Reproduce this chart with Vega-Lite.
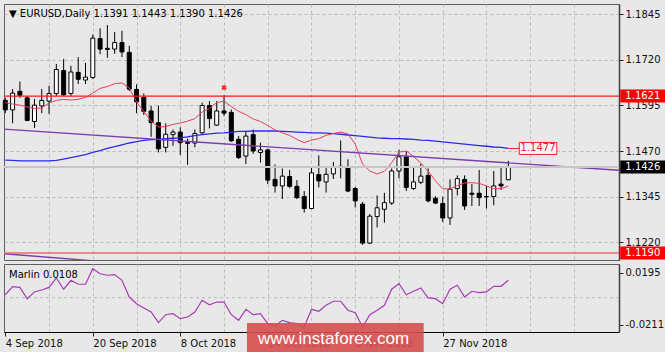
{
  "$schema": "https://vega.github.io/schema/vega-lite/v6.json",
  "background": "#e8e8e8",
  "padding": {"left": 2, "top": 3, "right": 0, "bottom": 0},
  "spacing": 2,
  "config": {
    "view": {"stroke": "#5e5e5e", "strokeWidth": 1, "fill": "#e8e8e8"},
    "font": "DejaVu Sans",
    "scale": {"continuousPadding": 0},
    "axis": {"labelFont": "DejaVu Sans", "labelFontSize": 10, "labelColor": "#111111", "tickColor": "#222222", "domainColor": "#404040", "gridColor": "#bababa", "gridDash": [3, 3], "gridWidth": 1, "zindex": 0}
  },
  "datasets": {
    "candles": [
      {"i":0,"o":1.1609,"h":1.1616,"l":1.1574,"c":1.1583,"fast":1.1603,"slow":1.1445,"marlin":0.0023},
      {"i":1,"o":1.1583,"h":1.1640,"l":1.1546,"c":1.1629,"fast":1.1599,"slow":1.1444,"marlin":0.0087},
      {"i":2,"o":1.1634,"h":1.1661,"l":1.1616,"c":1.1623,"fast":1.1596,"slow":1.1443,"marlin":0.0080},
      {"i":3,"o":1.1616,"h":1.1621,"l":1.1552,"c":1.1554,"fast":1.1591,"slow":1.1443,"marlin":-0.0008},
      {"i":4,"o":1.1551,"h":1.1613,"l":1.1533,"c":1.1596,"fast":1.1587,"slow":1.1443,"marlin":0.0045},
      {"i":5,"o":1.1594,"h":1.1640,"l":1.1574,"c":1.1609,"fast":1.1588,"slow":1.1443,"marlin":0.0060},
      {"i":6,"o":1.1607,"h":1.1649,"l":1.1572,"c":1.1628,"fast":1.1602,"slow":1.1443,"marlin":0.0080},
      {"i":7,"o":1.1628,"h":1.1709,"l":1.1621,"c":1.1694,"fast":1.1609,"slow":1.1444,"marlin":0.0154},
      {"i":8,"o":1.1691,"h":1.1723,"l":1.1621,"c":1.1624,"fast":1.1612,"slow":1.1448,"marlin":0.0066},
      {"i":9,"o":1.1628,"h":1.1704,"l":1.1621,"c":1.1687,"fast":1.1610,"slow":1.1452,"marlin":0.0136},
      {"i":10,"o":1.1686,"h":1.1728,"l":1.1654,"c":1.1667,"fast":1.1612,"slow":1.1456,"marlin":0.0105},
      {"i":11,"o":1.1665,"h":1.1712,"l":1.1654,"c":1.1673,"fast":1.1617,"slow":1.1460,"marlin":0.0105},
      {"i":12,"o":1.1672,"h":1.1790,"l":1.1668,"c":1.1780,"fast":1.1629,"slow":1.1466,"marlin":0.0226},
      {"i":13,"o":1.1779,"h":1.1807,"l":1.1736,"c":1.1750,"fast":1.1642,"slow":1.1471,"marlin":0.0187},
      {"i":14,"o":1.1752,"h":1.1816,"l":1.1726,"c":1.1749,"fast":1.1647,"slow":1.1477,"marlin":0.0175},
      {"i":15,"o":1.1750,"h":1.1797,"l":1.1737,"c":1.1768,"fast":1.1655,"slow":1.1482,"marlin":0.0180},
      {"i":16,"o":1.1768,"h":1.1800,"l":1.1728,"c":1.1742,"fast":1.1657,"slow":1.1487,"marlin":0.0136},
      {"i":17,"o":1.1741,"h":1.1759,"l":1.1635,"c":1.1640,"fast":1.1643,"slow":1.1492,"marlin":0.0005},
      {"i":18,"o":1.1639,"h":1.1653,"l":1.1574,"c":1.1605,"fast":1.1605,"slow":1.1496,"marlin":-0.0047},
      {"i":19,"o":1.1618,"h":1.1628,"l":1.1569,"c":1.1579,"fast":1.1579,"slow":1.1499,"marlin":-0.0080},
      {"i":20,"o":1.1580,"h":1.1594,"l":1.1509,"c":1.1548,"fast":1.1552,"slow":1.1501,"marlin":-0.0112},
      {"i":21,"o":1.1548,"h":1.1595,"l":1.1466,"c":1.1476,"fast":1.1536,"slow":1.1502,"marlin":-0.0195},
      {"i":22,"o":1.1480,"h":1.1546,"l":1.1466,"c":1.1516,"fast":1.1537,"slow":1.1504,"marlin":-0.0133},
      {"i":23,"o":1.1515,"h":1.1529,"l":1.1484,"c":1.1522,"fast":1.1543,"slow":1.1505,"marlin":-0.0125},
      {"i":24,"o":1.1522,"h":1.1535,"l":1.1459,"c":1.1493,"fast":1.1547,"slow":1.1506,"marlin":-0.0164},
      {"i":25,"o":1.1493,"h":1.1504,"l":1.1432,"c":1.1491,"fast":1.1552,"slow":1.1509,"marlin":-0.0151},
      {"i":26,"o":1.1492,"h":1.1529,"l":1.1480,"c":1.1518,"fast":1.1559,"slow":1.1512,"marlin":-0.0112},
      {"i":27,"o":1.1520,"h":1.1603,"l":1.1517,"c":1.1595,"fast":1.1577,"slow":1.1515,"marlin":-0.0020},
      {"i":28,"o":1.1595,"h":1.1607,"l":1.1532,"c":1.1559,"fast":1.1587,"slow":1.1517,"marlin":-0.0055},
      {"i":29,"o":1.1541,"h":1.1607,"l":1.1539,"c":1.1580,"fast":1.1603,"slow":1.1519,"marlin":-0.0034},
      {"i":30,"o":1.1580,"h":1.1623,"l":1.1566,"c":1.1574,"fast":1.1607,"slow":1.1520,"marlin":-0.0034},
      {"i":31,"o":1.1576,"h":1.1584,"l":1.1495,"c":1.1498,"fast":1.1592,"slow":1.1522,"marlin":-0.0133},
      {"i":32,"o":1.1502,"h":1.1511,"l":1.1448,"c":1.1452,"fast":1.1579,"slow":1.1524,"marlin":-0.0177},
      {"i":33,"o":1.1456,"h":1.1525,"l":1.1434,"c":1.1511,"fast":1.1570,"slow":1.1524,"marlin":-0.0091},
      {"i":34,"o":1.1515,"h":1.1529,"l":1.1462,"c":1.1470,"fast":1.1558,"slow":1.1525,"marlin":-0.0133},
      {"i":35,"o":1.1466,"h":1.1493,"l":1.1438,"c":1.1473,"fast":1.1551,"slow":1.1525,"marlin":-0.0125},
      {"i":36,"o":1.1473,"h":1.1476,"l":1.1379,"c":1.1390,"fast":1.1540,"slow":1.1525,"marlin":-0.0203},
      {"i":37,"o":1.1392,"h":1.1433,"l":1.1356,"c":1.1374,"fast":1.1528,"slow":1.1525,"marlin":-0.0221},
      {"i":38,"o":1.1374,"h":1.1422,"l":1.1338,"c":1.1401,"fast":1.1520,"slow":1.1524,"marlin":-0.0177},
      {"i":39,"o":1.1400,"h":1.1418,"l":1.1368,"c":1.1373,"fast":1.1513,"slow":1.1523,"marlin":-0.0195},
      {"i":40,"o":1.1373,"h":1.1390,"l":1.1338,"c":1.1342,"fast":1.1502,"slow":1.1522,"marlin":-0.0203},
      {"i":41,"o":1.1345,"h":1.1360,"l":1.1301,"c":1.1312,"fast":1.1493,"slow":1.1521,"marlin":-0.0229},
      {"i":42,"o":1.1312,"h":1.1425,"l":1.1311,"c":1.1410,"fast":1.1500,"slow":1.1520,"marlin":-0.0091},
      {"i":43,"o":1.1405,"h":1.1458,"l":1.1370,"c":1.1388,"fast":1.1504,"slow":1.1520,"marlin":-0.0106},
      {"i":44,"o":1.1385,"h":1.1425,"l":1.1356,"c":1.1406,"fast":1.1513,"slow":1.1519,"marlin":-0.0059},
      {"i":45,"o":1.1407,"h":1.1440,"l":1.1393,"c":1.1427,"fast":1.1518,"slow":1.1518,"marlin":-0.0028},
      {"i":46,"o":1.1428,"h":1.1499,"l":1.1395,"c":1.1426,"fast":1.1522,"slow":1.1516,"marlin":-0.0028},
      {"i":47,"o":1.1427,"h":1.1447,"l":1.1357,"c":1.1360,"fast":1.1517,"slow":1.1514,"marlin":-0.0098},
      {"i":48,"o":1.1367,"h":1.1371,"l":1.1315,"c":1.1333,"fast":1.1489,"slow":1.1512,"marlin":-0.0117},
      {"i":49,"o":1.1324,"h":1.1330,"l":1.1212,"c":1.1217,"fast":1.1434,"slow":1.1510,"marlin":-0.0229},
      {"i":50,"o":1.1217,"h":1.1297,"l":1.1215,"c":1.1291,"fast":1.1415,"slow":1.1508,"marlin":-0.0133},
      {"i":51,"o":1.1290,"h":1.1348,"l":1.1260,"c":1.1314,"fast":1.1407,"slow":1.1506,"marlin":-0.0098},
      {"i":52,"o":1.1310,"h":1.1355,"l":1.1273,"c":1.1328,"fast":1.1414,"slow":1.1505,"marlin":-0.0059},
      {"i":53,"o":1.1327,"h":1.1422,"l":1.1322,"c":1.1415,"fast":1.1438,"slow":1.1504,"marlin":0.0066},
      {"i":54,"o":1.1415,"h":1.1473,"l":1.1395,"c":1.1454,"fast":1.1467,"slow":1.1504,"marlin":0.0109},
      {"i":55,"o":1.1454,"h":1.1470,"l":1.1360,"c":1.1370,"fast":1.1470,"slow":1.1503,"marlin":0.0023},
      {"i":56,"o":1.1367,"h":1.1425,"l":1.1363,"c":1.1385,"fast":1.1455,"slow":1.1502,"marlin":0.0050},
      {"i":57,"o":1.1384,"h":1.1434,"l":1.1379,"c":1.1401,"fast":1.1437,"slow":1.1500,"marlin":0.0076},
      {"i":58,"o":1.1403,"h":1.1422,"l":1.1329,"c":1.1333,"fast":1.1415,"slow":1.1499,"marlin":-0.0002},
      {"i":59,"o":1.1340,"h":1.1346,"l":1.1324,"c":1.1327,"fast":1.1388,"slow":1.1497,"marlin":-0.0008},
      {"i":60,"o":1.1326,"h":1.1345,"l":1.1275,"c":1.1286,"fast":1.1366,"slow":1.1495,"marlin":-0.0047},
      {"i":61,"o":1.1286,"h":1.1392,"l":1.1267,"c":1.1365,"fast":1.1366,"slow":1.1493,"marlin":0.0066},
      {"i":62,"o":1.1367,"h":1.1403,"l":1.1348,"c":1.1394,"fast":1.1375,"slow":1.1491,"marlin":0.0097},
      {"i":63,"o":1.1392,"h":1.1403,"l":1.1308,"c":1.1319,"fast":1.1382,"slow":1.1489,"marlin":0.0005},
      {"i":64,"o":1.1354,"h":1.1379,"l":1.1319,"c":1.1351,"fast":1.1383,"slow":1.1487,"marlin":0.0050},
      {"i":65,"o":1.1354,"h":1.1418,"l":1.1319,"c":1.1342,"fast":1.1381,"slow":1.1485,"marlin":0.0039},
      {"i":66,"o":1.1345,"h":1.1374,"l":1.1312,"c":1.1344,"fast":1.1374,"slow":1.1483,"marlin":0.0045},
      {"i":67,"o":1.1345,"h":1.1415,"l":1.1321,"c":1.1374,"fast":1.1367,"slow":1.1481,"marlin":0.0089},
      {"i":68,"o":1.1379,"h":1.1424,"l":1.1363,"c":1.1374,"fast":1.1366,"slow":1.1480,"marlin":0.0089},
      {"i":69,"o":1.1391,"h":1.1443,"l":1.1390,"c":1.1426,"fast":1.1374,"slow":1.1477,"marlin":0.0136}
    ],
    "trendlines": [
      {"line": "upper", "i": -0.18, "p": 1.1530},
      {"line": "upper", "i": 84.18, "p": 1.1417},
      {"line": "lower", "i": -0.18, "p": 1.11879},
      {"line": "lower", "i": 14, "p": 1.11652}
    ],
    "levels": [
      {"p": 1.1621, "t": "1.1621", "kind": "resistance"},
      {"p": 1.1190, "t": "1.1190", "kind": "support"},
      {"p": 1.1426, "t": "1.1426", "kind": "bid"}
    ],
    "maLabel": [{"p": 1.1477, "t": "1.1477"}],
    "marker": [{"i": 30, "p": 1.1644}],
    "header": [{"t": "▼  EURUSD,Daily  1.1391 1.1443 1.1390 1.1426"}],
    "subheader": [{"t": "Marlin 0.0108"}],
    "watermark": [{"t": "www.instaforex.com"}]
  },
  "vconcat": [
    {
      "width": 615,
      "height": 256,
      "layer": [
        {
          "data": {"name": "candles"},
          "mark": {"type": "rule", "color": "#000000", "strokeWidth": 1},
          "encoding": {
            "x": {"field": "i", "type": "quantitative", "scale": {"domain": [-0.18, 84.18], "nice": false, "zero": false, "padding": 0},
                  "axis": {"values": [6, 12, 18, 24, 30, 36, 42, 48, 54, 60, 66, 72, 78], "labels": false, "ticks": false, "domain": false, "grid": true, "title": null}},
            "y": {"field": "l", "type": "quantitative", "scale": {"domain": [1.11706, 1.18738], "nice": false, "zero": false, "padding": 0},
                  "axis": {"orient": "right", "values": [1.1845, 1.172, 1.1595, 1.147, 1.1345, 1.122], "format": ".4f", "tickSize": 4, "labelPadding": 2, "grid": true, "domainColor": "#404040", "domainWidth": 1.5, "labelBaseline": "middle", "title": null}},
            "y2": {"field": "h"}
          }
        },
        {
          "data": {"name": "candles"},
          "mark": {"type": "bar", "width": 4, "stroke": "#000000", "strokeWidth": 1},
          "encoding": {
            "x": {"field": "i", "type": "quantitative"},
            "y": {"field": "o", "type": "quantitative"},
            "y2": {"field": "c"},
            "fill": {"condition": {"test": "datum.c >= datum.o", "value": "#ffffff"}, "value": "#000000"}
          }
        },
        {
          "data": {"name": "candles"},
          "mark": {"type": "line", "color": "#2a2af0", "strokeWidth": 1.3},
          "encoding": {"x": {"field": "i", "type": "quantitative"}, "y": {"field": "slow", "type": "quantitative"}}
        },
        {
          "data": {"name": "candles"},
          "mark": {"type": "line", "color": "#e2405f", "strokeWidth": 1},
          "encoding": {"x": {"field": "i", "type": "quantitative"}, "y": {"field": "fast", "type": "quantitative"}}
        },
        {
          "data": {"name": "trendlines"},
          "mark": {"type": "line", "color": "#7a3cb0", "strokeWidth": 1.4, "clip": true},
          "encoding": {"x": {"field": "i", "type": "quantitative"}, "y": {"field": "p", "type": "quantitative"}, "detail": {"field": "line"}}
        },
        {
          "data": {"name": "levels"},
          "mark": {"type": "rule"},
          "encoding": {
            "y": {"field": "p", "type": "quantitative"},
            "color": {"field": "kind", "type": "nominal", "scale": {"domain": ["resistance", "support", "bid"], "range": ["#ff1a1a", "#f06a6a", "#c6c6c6"]}, "legend": null},
            "strokeWidth": {"field": "kind", "type": "nominal", "scale": {"domain": ["resistance", "support", "bid"], "range": [1.2, 2, 1]}, "legend": null}
          }
        },
        {
          "data": {"name": "levels"},
          "mark": {"type": "bar", "height": 13, "clip": false},
          "encoding": {
            "x": {"datum": 84.35, "type": "quantitative"},
            "x2": {"datum": 90.6},
            "y": {"field": "p", "type": "quantitative"},
            "fill": {"field": "kind", "type": "nominal", "scale": {"domain": ["resistance", "support", "bid"], "range": ["#ff0000", "#ff0000", "#000000"]}, "legend": null}
          }
        },
        {
          "data": {"name": "levels"},
          "mark": {"type": "text", "clip": false, "color": "#ffffff", "font": "DejaVu Sans", "fontSize": 10, "align": "center", "baseline": "middle"},
          "encoding": {
            "x": {"datum": 87.45, "type": "quantitative"},
            "y": {"field": "p", "type": "quantitative"},
            "text": {"field": "t"}
          }
        },
        {
          "data": {"name": "maLabel"},
          "mark": {"type": "rule", "color": "#ff2020", "strokeWidth": 1},
          "encoding": {
            "x": {"datum": 69, "type": "quantitative"},
            "x2": {"datum": 70.5},
            "y": {"field": "p", "type": "quantitative"}
          }
        },
        {
          "data": {"name": "maLabel"},
          "mark": {"type": "bar", "height": 12, "fill": "#f6f6f6", "stroke": "#ff2020", "strokeWidth": 1},
          "encoding": {
            "x": {"datum": 70.5, "type": "quantitative"},
            "x2": {"datum": 75.65},
            "y": {"field": "p", "type": "quantitative"}
          }
        },
        {
          "data": {"name": "maLabel"},
          "mark": {"type": "text", "color": "#ff2020", "font": "DejaVu Sans", "fontSize": 10, "align": "center", "baseline": "middle"},
          "encoding": {
            "x": {"datum": 73.07, "type": "quantitative"},
            "y": {"field": "p", "type": "quantitative"},
            "text": {"field": "t"}
          }
        },
        {
          "data": {"name": "marker"},
          "mark": {"type": "point", "shape": "cross", "angle": 45, "filled": true, "color": "#ff2a2a", "size": 30, "opacity": 1},
          "encoding": {
            "x": {"field": "i", "type": "quantitative"},
            "y": {"field": "p", "type": "quantitative"}
          }
        },
        {
          "data": {"name": "header"},
          "mark": {"type": "text", "font": "DejaVu Sans", "fontSize": 10, "color": "#000000", "align": "left", "baseline": "alphabetic", "dx": 5, "dy": 13},
          "encoding": {
            "x": {"datum": -0.18, "type": "quantitative"},
            "y": {"datum": 1.18738, "type": "quantitative"},
            "text": {"field": "t"}
          }
        }
      ]
    },
    {
      "width": 615,
      "height": 68,
      "resolve": {"axis": {"x": "independent"}},
      "layer": [
        {
          "data": {"values": [{"level": 0}]},
          "mark": {"type": "rule", "color": "#bababa", "strokeDash": [3, 3], "strokeWidth": 1},
          "encoding": {"y": {"field": "level", "type": "quantitative"}}
        },
        {
          "data": {"name": "candles"},
          "mark": {"type": "line", "color": "#a83cb4", "strokeWidth": 1.2},
          "encoding": {
            "x": {"field": "i", "type": "quantitative", "scale": {"domain": [-0.18, 84.18], "nice": false, "zero": false, "padding": 0},
                  "axis": {"orient": "bottom", "values": [0, 12, 24, 36, 48, 60], "labelExpr": "['4 Sep 2018','20 Sep 2018','8 Oct 2018','24 Oct 2018','9 Nov 2018','27 Nov 2018'][round(datum.value / 12)]", "labelAlign": "left", "labelFlush": false, "labelOverlap": false, "tickSize": 4, "labelPadding": 2, "grid": false, "domainColor": "#000000", "title": null}},
            "y": {"field": "marlin", "type": "quantitative", "scale": {"domain": [-0.0268, 0.0263], "nice": false, "zero": false, "padding": 0},
                  "axis": {"orient": "right", "values": [0.0195, 0, -0.0211], "labelExpr": "datum.value == 0 ? '0.00' : (datum.value > 0 ? '0.0195' : '-0.0211')", "tickSize": 4, "labelPadding": 2, "grid": false, "domainColor": "#404040", "domainWidth": 1.5, "labelBaseline": "middle", "title": null}}
          }
        },
        {
          "data": {"name": "watermark"},
          "mark": {"type": "bar", "clip": false, "color": "#d64f4f", "opacity": 0.9},
          "encoding": {
            "x": {"datum": 33.15, "type": "quantitative", "axis": {"orient": "top", "values": [6, 12, 18, 24, 30, 36, 42, 48, 54, 60, 66, 72, 78], "labels": false, "ticks": false, "domain": false, "grid": true, "title": null}},
            "x2": {"datum": 57.39},
            "y": {"datum": -0.01976, "type": "quantitative"},
            "y2": {"datum": -0.0439}
          }
        },
        {
          "data": {"name": "watermark"},
          "mark": {"type": "text", "clip": false, "color": "#ffffff", "font": "Liberation Sans", "fontSize": 17, "align": "center", "baseline": "alphabetic"},
          "encoding": {
            "x": {"datum": 45.02, "type": "quantitative", "axis": null},
            "y": {"datum": -0.0362, "type": "quantitative"},
            "text": {"field": "t"}
          }
        },
        {
          "data": {"name": "subheader"},
          "mark": {"type": "text", "font": "DejaVu Sans", "fontSize": 10, "color": "#000000", "align": "left", "baseline": "alphabetic", "dx": 5, "dy": 14},
          "encoding": {
            "x": {"datum": -0.18, "type": "quantitative", "axis": null},
            "y": {"datum": 0.0263, "type": "quantitative"},
            "text": {"field": "t"}
          }
        }
      ]
    }
  ]
}
